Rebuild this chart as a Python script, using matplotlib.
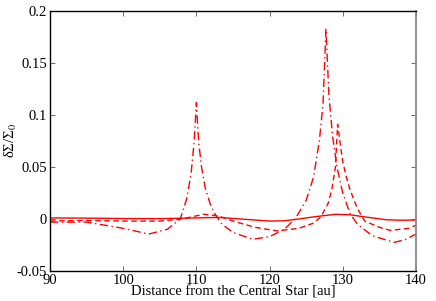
import numpy as np
import matplotlib
matplotlib.use("Agg")
import matplotlib.pyplot as plt
from matplotlib.ticker import FuncFormatter

plt.rcParams['font.family'] = ['Liberation Serif', 'DejaVu Serif']
plt.rcParams['mathtext.fontset'] = 'stix'
plt.rcParams['axes.unicode_minus'] = False

# solid curve
r_solid = [90, 95, 100, 105, 110, 113, 116, 120, 122, 124, 126, 129, 131, 133, 136, 138, 140]
s_solid = [0.001, 0.0008, 0.0004, 0.0003, 0.001, 0.0015, 0.0, -0.002, -0.0018, 0.0, 0.002, 0.0045, 0.004, 0.002, -0.0008, -0.0012, -0.001]

# dashed curve
r_dash = [90, 95, 100, 105, 108, 110, 111, 113, 115, 118, 121, 124, 126, 127, 128, 128.5, 129, 129.3,
          129.7, 130, 130.5, 131, 132, 133, 135, 136.5, 139, 140]
s_dash = [-0.002, -0.0015, -0.002, -0.002, 0.0, 0.003, 0.0045, 0.003, -0.002, -0.008, -0.0115, -0.009,
          -0.004, 0.002, 0.015, 0.028, 0.05, 0.091, 0.07, 0.055, 0.04, 0.028, 0.01, -0.002, -0.008,
          -0.011, -0.009, -0.006]

# dash-dot curve
r_dd = [90, 95, 100, 103.5, 106, 107.8, 108.7, 109.3, 109.7, 110, 110.3, 110.7, 111.2, 112, 112.7, 113.5,
        115, 117.7, 120, 122, 123.5, 125, 126, 126.8, 127.3, 127.7, 128.1, 128.6, 129.2, 130, 131, 132,
        134, 137, 138.5, 140]
s_dd = [-0.003, -0.003, -0.009, -0.0145, -0.01, 0.0, 0.02, 0.045, 0.075, 0.112, 0.075, 0.05, 0.03, 0.012,
        0.003, -0.005, -0.013, -0.0195, -0.017, -0.01, 0.0, 0.018, 0.04, 0.075, 0.11, 0.183, 0.12, 0.08,
        0.05, 0.025, 0.005, -0.005, -0.016, -0.0225, -0.02, -0.0145]

xticks = [90, 100, 110, 120, 130, 140]
yticks = [-0.05, 0, 0.05, 0.1, 0.15, 0.2]

fig = plt.figure(figsize=(4.36, 3.01), dpi=100)
ax = fig.add_axes([0.1147, 0.0997, 0.954 - 0.1147, 0.8641])

ax.plot(r_solid, s_solid, color='red', lw=1.0, ls='-')
ax.plot(r_dash, s_dash, color='red', lw=1.0, ls=(0, (4, 2.5)))
ax.plot(r_dd, s_dd, color='red', lw=1.0, ls=(0, (6, 2.5, 1, 2.5)))

ax.set_xlim(90, 140)
ax.set_ylim(-0.05, 0.2)
ax.set_xticks(xticks)
ax.set_yticks(yticks)
ax.yaxis.set_major_formatter(FuncFormatter(lambda v, p: '%g' % v))
ax.tick_params(direction='in', top=True, right=True, length=3.5, width=0.6,
               labelsize=10.5, pad=2, color='#555555')
ax.spines['right'].set_color('#888888')
ax.spines['right'].set_linewidth(1.3)
for s in ['left', 'top', 'bottom']:
    ax.spines[s].set_linewidth(1.0)

ax.set_xlabel('Distance from the Central Star [au]', fontsize=10.5, labelpad=-1)
ax.set_ylabel('δΣ/Σ$_0$', fontsize=10.5)
ax.yaxis.set_label_coords(-0.085, 0.5)

fig.savefig('out.png', dpi=100)
